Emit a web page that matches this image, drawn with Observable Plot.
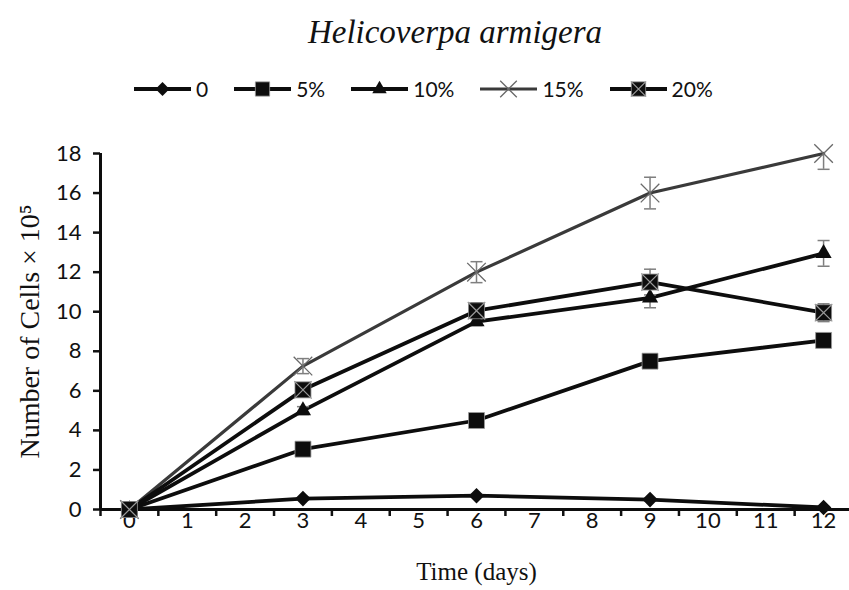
<!DOCTYPE html>
<html>
<head>
<meta charset="utf-8">
<script src="https://cdn.jsdelivr.net/npm/d3@7"></script>
<script src="https://cdn.jsdelivr.net/npm/@observablehq/plot@0.6"></script>
<style>
  body { margin: 0; background: #fff; }
  #wrap { position: relative; width: 849px; height: 590px; overflow: hidden; background: #fff; }
  #title { position: absolute; top: 14px; left: 455px; transform: translateX(-50%); white-space: nowrap;
           font-family: "Liberation Serif", "Times New Roman", serif; font-style: italic; font-size: 33px; color: #111; }
  #legend { position: absolute; top: 76px; left: 134px; display: flex; align-items: center; gap: 26px;
            font-family: Lato, "Open Sans", sans-serif; font-size: 21px; color: #111; }
  .item { display: flex; align-items: center; }
  .item span { margin-left: 5px; }
  #chart { position: absolute; top: 110px; left: 0; }
</style>
</head>
<body>
<div id="wrap">
  <div id="title">Helicoverpa armigera</div>
  <div id="legend"></div>
  <div id="chart"></div>
</div>
<script>
// ---- data ----
const days = [0, 3, 6, 9, 12];
const dayTicks = [0, 1, 2, 3, 4, 5, 6, 7, 8, 9, 10, 11, 12];
const yTicks = [0, 2, 4, 6, 8, 10, 12, 14, 16, 18];
const seriesNames = ["0", "5%", "10%", "15%", "20%"];
const v0  = [0, 0.55, 0.7, 0.5, 0.1];
const v5  = [0, 3.05, 4.5, 7.5, 8.55];
const v10 = [0, 5.0, 9.5, 10.7, 12.95];
const v15 = [0, 7.25, 12.0, 16.0, 18.0];
const v20 = [0, 6.05, 10.05, 11.5, 9.95];
const e0  = [0, 0.05, 0.05, 0.05, 0.05];
const e5  = [0, 0.1, 0.1, 0.1, 0.2];
const e10 = [0, 0.2, 0.2, 0.5, 0.65];
const e15 = [0, 0.38, 0.53, 0.8, 0.8];
const e20 = [0, 0.3, 0.4, 0.65, 0.45];
const xTitle = "Time (days)";
const yTitle = "Number of Cells × 10⁵";

const values = [v0, v5, v10, v15, v20];
const errors = [e0, e5, e10, e15, e20];
const rows = seriesNames.flatMap((s, i) => days.map((d, j) => ({series: s, day: d, v: values[i][j], e: errors[i][j]})));
const errRows = rows.filter(r => r.e > 0);

// ---- styles per series ----
const styles = {
  "0":   {line: "#0d0d0d", lw: 3.8, sym: "diamond2", r: 7,   fill: "#0d0d0d", stroke: "none", sw: 0},
  "5%":  {line: "#0d0d0d", lw: 3.8, sym: "square",   r: 9,   fill: "#0d0d0d", stroke: "#999", sw: 0.8},
  "10%": {line: "#0d0d0d", lw: 3.8, sym: "triangle", r: 6,   fill: "#0d0d0d", stroke: "none", sw: 0},
  "15%": {line: "#3a3a3a", lw: 3.2, sym: "times",    r: 8.5, fill: "none",    stroke: "#6a6a6a", sw: 1.3},
  "20%": {line: "#0d0d0d", lw: 3.8, sym: "square",   r: 9,   fill: "#0d0d0d", stroke: "#888", sw: 0.8, over: "times"}
};
const symMap = {diamond2: d3.symbolDiamond2, square: d3.symbolSquare, triangle: d3.symbolTriangle, times: d3.symbolTimes};

const cap = { draw(ctx) { ctx.moveTo(-6, 0); ctx.lineTo(6, 0); } };

const marks = [];
seriesNames.forEach(s => {
  const st = styles[s];
  marks.push(Plot.line(rows.filter(r => r.series === s), {x: "day", y: "v", stroke: st.line, strokeWidth: st.lw, strokeLinejoin: "round"}));
});
// error bars (behind markers)
marks.push(Plot.ruleX(errRows, {x: "day", y1: d => d.v - d.e, y2: d => d.v + d.e, stroke: "#7f7f7f", strokeWidth: 1.5, clip: true}));
marks.push(Plot.dot(errRows, {x: "day", y: d => d.v + d.e, symbol: cap, fill: "none", stroke: "#7f7f7f", strokeWidth: 1.5, clip: true}));
marks.push(Plot.dot(errRows, {x: "day", y: d => d.v - d.e, symbol: cap, fill: "none", stroke: "#7f7f7f", strokeWidth: 1.5, clip: true}));
seriesNames.forEach(s => {
  const st = styles[s];
  const data = rows.filter(r => r.series === s);
  marks.push(Plot.dot(data, {x: "day", y: "v", symbol: st.sym, r: st.r, fill: st.fill, stroke: st.stroke, strokeWidth: st.sw}));
  if (st.over) marks.push(Plot.dot(data, {x: "day", y: "v", symbol: st.over, r: 8, fill: "none", stroke: "#9a9a9a", strokeWidth: 1.2}));
});

const serif = "'Liberation Serif', 'Times New Roman', serif";
const chart = Plot.plot({
  width: 849, height: 480,
  marginLeft: 100, marginRight: -3, marginTop: 43, marginBottom: 81,
  x: {domain: [-0.5, 12.5]},
  y: {domain: [0, 18]},
  style: {fontFamily: "Lato, 'Open Sans', sans-serif", fontSize: "22px", color: "#111", background: "white", overflow: "visible"},
  marks: [
    Plot.axisY({ticks: yTicks, tickSize: 7, tickPadding: 12, strokeWidth: 2.5, label: null, fontSize: 22}),
    Plot.axisX({ticks: dayTicks, tickSize: 0, tickPadding: 3, label: null, fontSize: 22}),
    Plot.axisX({ticks: [-0.5, ...dayTicks.map(d => d + 0.5)], tickSize: 7, tickFormat: () => "", label: null, strokeWidth: 2.5}),
    Plot.ruleY([0], {stroke: "#0d0d0d", strokeWidth: 3}),
    Plot.ruleX([-0.5], {stroke: "#0d0d0d", strokeWidth: 3}),
    ...marks,
    Plot.text([xTitle], {frameAnchor: "bottom", dy: 70, fontFamily: serif, fontSize: 25, fill: "#111"}),
    Plot.text([yTitle], {frameAnchor: "left", textAnchor: "middle", dx: -70, rotate: -90, fontFamily: serif, fontSize: 28, fill: "#111"})
  ]
});
document.getElementById("chart").appendChild(chart);

// ---- legend ----
const legend = d3.select("#legend");
seriesNames.forEach(s => {
  const st = styles[s];
  const item = legend.append("div").attr("class", "item");
  const svg = item.append("svg").attr("width", 57).attr("height", 20);
  svg.append("line").attr("x1", 0).attr("x2", 57).attr("y1", 10).attr("y2", 10).attr("stroke", st.line).attr("stroke-width", st.lw);
  svg.append("path").attr("transform", "translate(28.5,10)")
    .attr("d", d3.symbol(symMap[st.sym], Math.PI * st.r * st.r * 0.8)())
    .attr("fill", st.fill).attr("stroke", st.stroke).attr("stroke-width", st.sw);
  if (st.over) svg.append("path").attr("transform", "translate(28.5,10)")
    .attr("d", d3.symbol(symMap[st.over], Math.PI * 7 * 7)())
    .attr("fill", "none").attr("stroke", "#9a9a9a").attr("stroke-width", 1.2);
  item.append("span").text(s);
});
</script>
</body>
</html>
